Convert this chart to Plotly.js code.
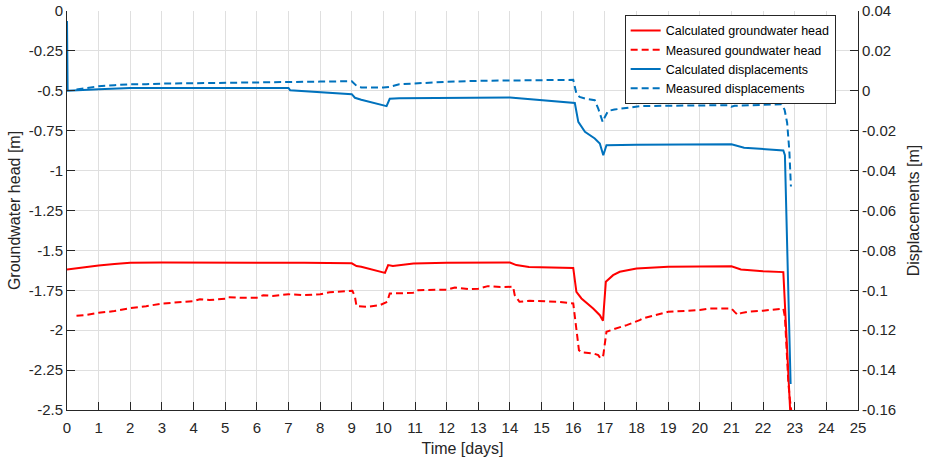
<!DOCTYPE html>
<html>
<head>
<meta charset="utf-8">
<script src="https://cdn.plot.ly/plotly-3.0.1.min.js"></script>
<style>
  html, body { margin: 0; padding: 0; background: #ffffff; }
  #chart { width: 928px; height: 461px; }
</style>
</head>
<body>
<div id="chart"></div>
<script>
// Calculated groundwater head [m]
const tHeadCalc = [0, 0.5, 1, 1.5, 2, 3, 5, 7, 7.5, 9, 9.15, 9.3, 10.05, 10.15, 10.3, 10.95, 11.5, 12, 14, 14.2, 14.6, 15, 16, 16.1, 16.26, 16.63, 16.84, 16.94, 17.03, 17.26, 17.47, 18, 19, 21, 21.3, 22, 22.64, 22.86];
const headCalc  = [-1.619, -1.606, -1.594, -1.585, -1.578, -1.576, -1.576, -1.576, -1.578, -1.581, -1.598, -1.602, -1.641, -1.592, -1.598, -1.582, -1.578, -1.577, -1.576, -1.592, -1.604, -1.607, -1.610, -1.760, -1.801, -1.864, -1.906, -1.941, -1.697, -1.655, -1.634, -1.613, -1.603, -1.600, -1.620, -1.630, -1.636, -2.52];

// Measured groundwater head [m]
const tHeadMeas = [0.3, 0.6, 1.0, 1.3, 1.5, 2.0, 2.5, 3.0, 3.5, 4.0, 4.2, 4.5, 5.0, 5.1, 5.5, 6.0, 6.2, 6.5, 7.0, 7.5, 8.0, 8.3, 9.02, 9.1, 9.15, 9.5, 9.89, 10.12, 10.2, 10.5, 10.94, 11.1, 11.47, 12.0, 12.26, 12.73, 13.0, 13.3, 13.7, 14.1, 14.15, 14.3, 14.63, 15.0, 15.5, 16.0, 16.05, 16.1, 16.18, 16.26, 16.63, 16.79, 16.86, 16.95, 17.0, 17.05, 17.26, 17.69, 18.1, 18.2, 19.0, 20.0, 20.3, 21.0, 21.1, 21.2, 21.3, 21.5, 22.0, 22.64, 22.69, 22.74, 22.8, 22.85, 22.9];
const headMeas  = [-1.910, -1.905, -1.891, -1.885, -1.880, -1.862, -1.850, -1.833, -1.824, -1.818, -1.806, -1.811, -1.803, -1.793, -1.797, -1.796, -1.781, -1.785, -1.775, -1.780, -1.775, -1.762, -1.753, -1.790, -1.849, -1.853, -1.843, -1.822, -1.770, -1.767, -1.766, -1.749, -1.749, -1.746, -1.732, -1.743, -1.740, -1.724, -1.730, -1.728, -1.780, -1.822, -1.816, -1.818, -1.822, -1.832, -1.906, -2.000, -2.125, -2.139, -2.145, -2.156, -2.177, -2.156, -2.062, -2.010, -1.995, -1.968, -1.937, -1.926, -1.885, -1.874, -1.864, -1.864, -1.885, -1.905, -1.893, -1.885, -1.878, -1.864, -1.916, -2.125, -2.333, -2.438, -2.52];

// Calculated displacements [m]
const tDispCalc = [0, 0.02, 1, 2, 7, 7.05, 9, 9.1, 9.3, 10.1, 10.2, 10.5, 14, 14.5, 15, 16.0, 16.05, 16.16, 16.37, 16.68, 16.84, 16.95, 17.05, 18, 21, 21.4, 21.9, 22.64, 22.69, 22.87];
const dispCalc  = [0.035, 0.0, 0.0008, 0.0014, 0.0014, 0.0003, -0.0017, -0.0035, -0.0045, -0.0077, -0.0040, -0.0037, -0.0034, -0.0040, -0.0047, -0.0059, -0.0061, -0.0156, -0.0206, -0.0239, -0.0264, -0.0323, -0.0273, -0.0270, -0.0268, -0.0285, -0.0292, -0.0299, -0.0323, -0.147];

// Measured displacements [m]
const tDispMeas = [0.3, 0.7, 1.0, 1.5, 2.0, 2.5, 3.0, 4.0, 5.0, 6.0, 7.0, 8.0, 9.0, 9.15, 9.3, 10.0, 10.2, 10.5, 11.0, 12.0, 13.0, 14.0, 15.0, 16.0, 16.1, 16.2, 16.4, 16.68, 16.79, 16.93, 17.0, 17.1, 17.3, 17.7, 18.1, 19.0, 20.0, 20.9, 21.0, 21.1, 22.0, 22.58, 22.68, 22.76, 22.83, 22.88];
const dispMeas  = [0.0006, 0.0015, 0.0023, 0.0028, 0.0033, 0.0033, 0.0036, 0.0038, 0.0041, 0.0042, 0.0044, 0.0046, 0.0048, 0.0025, 0.0017, 0.0016, 0.0020, 0.0033, 0.0038, 0.0045, 0.0050, 0.0052, 0.0054, 0.0055, -0.0014, -0.0031, -0.0040, -0.0047, -0.0089, -0.0156, -0.0131, -0.0101, -0.0094, -0.0084, -0.0077, -0.0075, -0.0073, -0.0072, -0.0080, -0.0075, -0.0070, -0.0068, -0.0095, -0.0160, -0.0300, -0.0480];

// Tick labels (plain hyphen for negatives)
const headTickVals = [-2.5, -2.25, -2, -1.75, -1.5, -1.25, -1, -0.75, -0.5, -0.25, 0];
const headTickText = ['-2.5', '-2.25', '-2', '-1.75', '-1.5', '-1.25', '-1', '-0.75', '-0.5', '-0.25', '0'];
const dispTickVals = [-0.16, -0.14, -0.12, -0.1, -0.08, -0.06, -0.04, -0.02, 0, 0.02, 0.04];
const dispTickText = ['-0.16', '-0.14', '-0.12', '-0.1', '-0.08', '-0.06', '-0.04', '-0.02', '0', '0.02', '0.04'];

const RED = '#ff0000';
const BLUE = '#0072bd';
const AXIS = '#262626';
const GRID = '#dfdfdf';
const DASH = '7px,4px';

const traces = [
  { x: tHeadCalc, y: headCalc, name: 'Calculated groundwater head', mode: 'lines',
    line: { color: RED, width: 2 }, yaxis: 'y' },
  { x: tHeadMeas, y: headMeas, name: 'Measured goundwater head', mode: 'lines',
    line: { color: RED, width: 2, dash: DASH }, yaxis: 'y' },
  { x: tDispCalc, y: dispCalc, name: 'Calculated displacements', mode: 'lines',
    line: { color: BLUE, width: 2 }, yaxis: 'y2' },
  { x: tDispMeas, y: dispMeas, name: 'Measured displacements', mode: 'lines',
    line: { color: BLUE, width: 2, dash: DASH }, yaxis: 'y2' }
];

const layout = {
  width: 928,
  height: 461,
  margin: { l: 67, r: 70, t: 11, b: 51, pad: 0 },
  paper_bgcolor: '#ffffff',
  plot_bgcolor: '#ffffff',
  font: { family: 'Liberation Sans, Arial, sans-serif', size: 15, color: AXIS },
  showlegend: true,
  legend: {
    x: 0.705, y: 0.99, xanchor: 'left', yanchor: 'top',
    bgcolor: '#ffffff', bordercolor: AXIS, borderwidth: 1,
    font: { size: 12.5, color: '#000000' },
    tracegroupgap: 0
  },
  xaxis: {
    range: [0, 25], tick0: 0, dtick: 1,
    ticks: 'inside', ticklen: 8, tickcolor: AXIS, ticklabelstandoff: 4,
    showline: true, linecolor: AXIS, linewidth: 1,
    showgrid: true, gridcolor: GRID, gridwidth: 1, zeroline: false,
    title: { text: 'Time [days]', font: { size: 16, color: AXIS }, standoff: 7 }
  },
  yaxis: {
    range: [-2.5, 0], tickvals: headTickVals, ticktext: headTickText,
    ticks: 'inside', ticklen: 8, tickcolor: AXIS,
    showline: true, linecolor: AXIS, linewidth: 1,
    showgrid: true, gridcolor: GRID, gridwidth: 1, zeroline: false,
    title: { text: 'Groundwater head [m]', font: { size: 16, color: AXIS }, standoff: 4 }
  },
  yaxis2: {
    range: [-0.16, 0.04], tickvals: dispTickVals, ticktext: dispTickText,
    overlaying: 'y', side: 'right',
    ticks: 'inside', ticklen: 8, tickcolor: AXIS,
    showline: true, linecolor: AXIS, linewidth: 1,
    showgrid: false, zeroline: false,
    title: { text: 'Displacements [m]', font: { size: 16, color: AXIS }, standoff: 12 }
  }
};

Plotly.newPlot('chart', traces, layout, { displayModeBar: false, staticPlot: true });
</script>
</body>
</html>
